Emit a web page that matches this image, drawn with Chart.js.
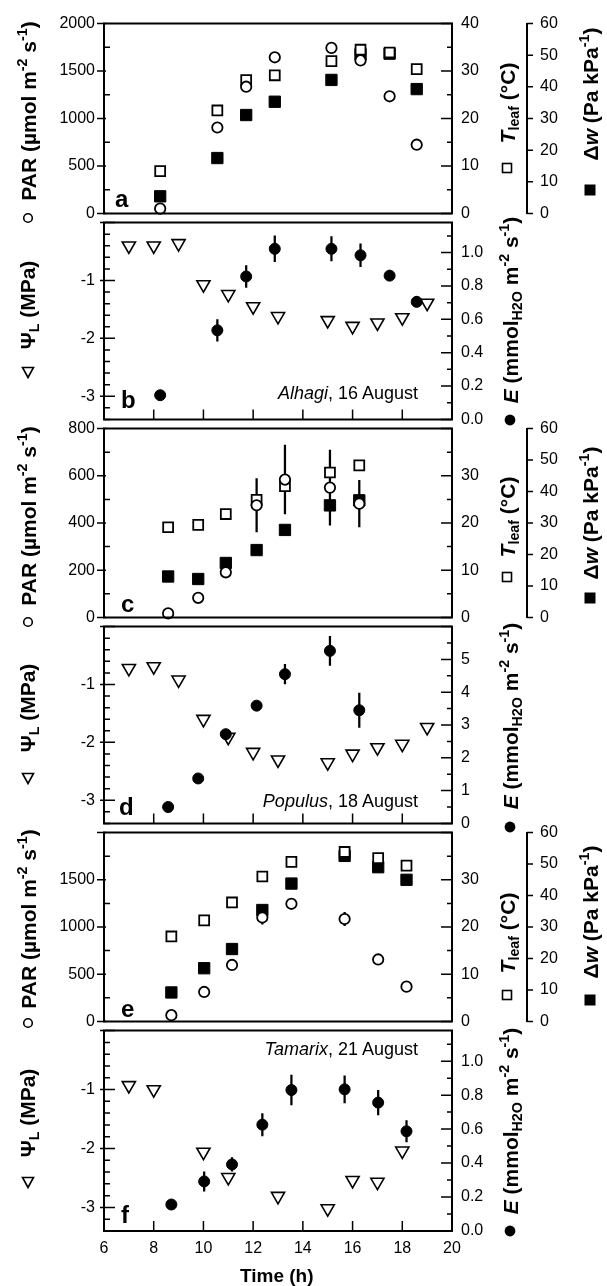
<!DOCTYPE html>
<html>
<head>
<meta charset="utf-8">
<title>Diurnal courses: Alhagi, Populus, Tamarix</title>
<script src="https://cdn.jsdelivr.net/npm/chart.js@4.4.1/dist/chart.umd.min.js"></script>
<style>
  html, body { margin: 0; padding: 0; background: #fff; }
  #fig { position: relative; width: 607px; height: 1286px; overflow: hidden;
         font-family: "Liberation Sans", Arial, sans-serif; color: #000; }
  #fig canvas { position: absolute; left: 0; }
  #keys { position: absolute; left: 0; top: 0; }
  .ttl { position: absolute; white-space: nowrap; font-weight: bold; font-size: 21px; line-height: 1;
         transform: translate(-50%, -50%) rotate(-90deg); }
  .ttl sub, .ttl sup { font-size: 0.68em; line-height: 0; }
  .ttl sup { vertical-align: 0.6em; }
  .ttl sub { vertical-align: -0.3em; }
  .txt { position: absolute; white-space: nowrap; line-height: 1; }
</style>
</head>
<body>
<div id="fig"></div>
<script>
// ─── Data ───

// ── Alhagi, 16 August (panels a, b) ──
const hoursA    = [8.26, 10.56, 11.72, 12.87, 15.15, 16.32, 17.49, 18.58];
const parA      = [50, 905, 1335, 1645, 1744, 1612, 1234, 724];
const tleafA    = [8.9, 21.7, 28.1, 29.1, 32.1, 34.5, 33.9, 30.4];
const dwA       = [5.4, 17.5, 31.1, 35.3, 42.2, 50.3, 50.5, 39.3];
const hoursPsiB = [7, 8, 9, 10, 11, 12, 13, 15, 16, 17, 18, 19];
const psiB      = [-0.40, -0.40, -0.36, -1.07, -1.24, -1.45, -1.62, -1.69, -1.79, -1.73, -1.64, -1.39];
const eB        = [0.145, 0.534, 0.857, 1.023, 1.023, 0.984, 0.862, 0.705];
const eErrB     = [0, 0.065, 0.065, 0.078, 0.073, 0.068, 0.03, 0.03];

// ── Populus, 18 August (panels c, d) ──
const hoursC    = [8.58, 9.79, 10.9, 12.14, 13.28, 15.09, 16.27];
const parC      = [17, 83, 191, 475, 584, 550, 482];
const parErrC   = [0, 0, 0, 113, 146, 159, 99];
const tleafC    = [19.1, 19.6, 21.9, 24.9, 27.8, 30.7, 32.2];
const dwC       = [13.0, 12.2, 17.3, 21.4, 27.8, 35.6, 37.2];
const hoursPsiD = [7, 8, 9, 10, 11, 12, 13, 15, 16, 17, 18, 19];
const psiD      = [-0.72, -0.69, -0.92, -1.60, -1.91, -2.17, -2.30, -2.35, -2.20, -2.09, -2.03, -1.74];
const eD        = [0.50, 1.37, 2.72, 3.59, 4.55, 5.26, 3.45];
const eErrD     = [0, 0, 0.12, 0, 0.3, 0.44, 0.52];

// ── Tamarix, 21 August (panels e, f) ──
const hoursE    = [8.71, 10.03, 11.15, 12.37, 13.54, 15.68, 17.03, 18.17];
const parE      = [66, 312, 598, 1100, 1246, 1085, 656, 368];
const parErrE   = [0, 0, 0, 70, 50, 70, 0, 0];
const tleafE    = [18.0, 21.4, 25.2, 30.7, 33.8, 35.9, 34.6, 33.0];
const dwE       = [9.2, 16.9, 23.0, 35.4, 43.8, 52.6, 49.0, 45.0];
const hoursPsiF = [7, 8, 10, 11, 13, 15, 16, 17, 18];
const psiF      = [-0.93, -1.00, -2.06, -2.49, -2.81, -3.02, -2.54, -2.57, -2.04];
const eF        = [0.156, 0.292, 0.392, 0.626, 0.830, 0.834, 0.756, 0.587];
const eErrF     = [0, 0.057, 0.04, 0.066, 0.088, 0.08, 0.073, 0.063];

// ── Tick labels ──
const timeTicks     = [6, 8, 10, 12, 14, 16, 18, 20];
const parTicksA     = [0, 500, 1000, 1500, 2000];
const parTicksC     = [0, 200, 400, 600, 800];
const parTicksE     = [0, 500, 1000, 1500];
const tleafTicks    = [0, 10, 20, 30, 40];
const tleafTicksLow = [0, 10, 20, 30];
const dwTicks       = [0, 10, 20, 30, 40, 50, 60];
const psiTicks      = [-3, -2, -1];
const eTicks        = [0, 0.2, 0.4, 0.6, 0.8, 1.0];
const eTicksD       = [0, 1, 2, 3, 4, 5];

// ─── Helpers ───
const FONT = '"Liberation Sans", Arial, sans-serif';
Chart.defaults.font.family = FONT;
Chart.defaults.color = '#000';

const steps = (a, b, d) => {
  const out = [];
  const n = Math.round((b - a) / d);
  for (let i = 0; i <= n; i++) out.push(+(a + i * d).toFixed(4));
  return out;
};
const without = (all, drop) => all.filter(v => !drop.some(m => Math.abs(m - v) < 1e-6));
const xy = (xs, ys) => xs.map((x, i) => ({ x, y: ys[i] }));
const errBars = (xs, ys, es) => xs
  .map((x, i) => ({ x, y: [ys[i] - es[i], ys[i] + es[i]] }))
  .filter((p, i) => es[i] > 0);

const fmtInt = v => (v < 0 ? '-' + Math.abs(v) : String(v));
const fmt1 = v => v.toFixed(1);

function yAxis(pos, min, max, labels, fmt, width, pad, weight) {
  return {
    type: 'linear', position: pos, min, max, weight,
    afterBuildTicks: s => { s.ticks = labels.map(v => ({ value: v })); },
    afterFit: s => { s.width = width; },
    grid: { display: false, drawTicks: false },
    border: { display: true, color: '#000', width: 2 },
    ticks: { color: '#000', font: { size: 16 }, padding: pad, autoSkip: false, callback: fmt }
  };
}

// frame lines and inward / outward tick marks, placed by the scales
const frameTicks = {
  id: 'frameTicks',
  afterDraw(chart, args, o) {
    const { ctx, chartArea: a } = chart;
    ctx.save();
    ctx.strokeStyle = '#000';
    ctx.lineWidth = 2;
    ctx.beginPath();
    ctx.moveTo(a.left - 1, a.top);    ctx.lineTo(a.right + 1, a.top);
    ctx.moveTo(a.left - 1, a.bottom); ctx.lineTo(a.right + 1, a.bottom);
    ctx.stroke();
    ctx.lineWidth = 1.5;
    ctx.beginPath();
    o.marks.forEach(m => {
      const s = chart.scales[m.id];
      const put = (vals, lenIn, lenOut) => vals.forEach(v => {
        const p = s.getPixelForValue(v);
        if (m.side === 'bottom') {
          ctx.moveTo(p, a.bottom); ctx.lineTo(p, a.bottom - lenIn);
        } else {
          const x0 = m.side === 'left' ? s.right : s.left;
          const dir = m.side === 'left' ? 1 : -1;
          ctx.moveTo(x0 - dir * lenOut, p); ctx.lineTo(x0 + dir * lenIn, p);
        }
      });
      put(m.major, m.majIn, m.majOut || 0);
      put(m.minor || [], m.minIn || 0, 0);
    });
    ctx.stroke();
    ctx.restore();
  }
};

const openCircle   = { pointStyle: 'circle', pointRadius: 5.2, pointBorderWidth: 1.8,
                       pointBackgroundColor: '#fff', pointBorderColor: '#000' };
const filledCircle = { pointStyle: 'circle', pointRadius: 5.5, pointBorderWidth: 1,
                       pointBackgroundColor: '#000', pointBorderColor: '#000' };
const openSquare   = { pointStyle: 'rect', pointRadius: 7, pointBorderWidth: 1.8,
                       pointBackgroundColor: '#fff', pointBorderColor: '#000' };
const filledSquare = { pointStyle: 'rect', pointRadius: 8, pointBorderWidth: 1,
                       pointBackgroundColor: '#000', pointBorderColor: '#000' };
const downTriangle = { pointStyle: 'triangle', pointRotation: 180, pointRadius: 7.6, pointBorderWidth: 1.6,
                       pointBackgroundColor: '#fff', pointBorderColor: '#000' };
const errStyle     = { type: 'bar', backgroundColor: '#000', borderWidth: 0, barThickness: 1.6, grouped: false };

// ─── Panels ───
const PANELS = [
  { kind: 'met', top: 17, h: 203, hours: hoursA, par: parA, parErr: null, tleaf: tleafA, dw: dwA,
    parMax: 2000, parStep: 500, parMinor: 250, parLabels: parTicksA, tleafLabels: tleafTicks },
  { kind: 'water', top: 220, h: 202, hoursPsi: hoursPsiB, psi: psiB, hoursE: hoursA, e: eB, eErr: eErrB,
    eMax: 1.18, eStep: 0.2, eMinor: 0.1, eLabels: eTicks, eFmt: fmt1 },
  { kind: 'met', top: 422, h: 202, hours: hoursC, par: parC, parErr: parErrC, tleaf: tleafC, dw: dwC,
    parMax: 800, parStep: 200, parMinor: 100, parLabels: parTicksC, tleafLabels: tleafTicksLow },
  { kind: 'water', top: 624, h: 202, hoursPsi: hoursPsiD, psi: psiD, hoursE: hoursC, e: eD, eErr: eErrD,
    eMax: 6, eStep: 1, eMinor: 0.5, eLabels: eTicksD, eFmt: fmtInt },
  { kind: 'met', top: 826, h: 202, hours: hoursE, par: parE, parErr: parErrE, tleaf: tleafE, dw: dwE,
    parMax: 2000, parStep: 500, parMinor: 250, parLabels: parTicksE, tleafLabels: tleafTicksLow },
  { kind: 'water', top: 1028, h: 203, hoursPsi: hoursPsiF, psi: psiF, hoursE: hoursE, e: eF, eErr: eErrF,
    eMax: 1.18, eStep: 0.2, eMinor: 0.1, eLabels: eTicks, eFmt: fmt1, last: true }
];

const fig = document.getElementById('fig');

function buildPanel(p) {
  const padT = 16, padB = 16, xH = p.last ? 52 : 0;
  const cv = document.createElement('canvas');
  cv.width = 607;
  cv.height = padT + p.h + xH + padB;
  cv.style.top = (p.top - padT) + 'px';
  fig.appendChild(cv);

  const scales = {
    x: {
      type: 'linear', min: 6, max: 20, offset: false, display: !!p.last,
      afterBuildTicks: s => { s.ticks = timeTicks.map(v => ({ value: v })); },
      afterFit: s => { s.height = xH; },
      grid: { display: false, drawTicks: false, offset: false },
      border: { display: false },
      ticks: { color: '#000', font: { size: 16 }, padding: 8, autoSkip: false, maxRotation: 0 }
    }
  };
  let datasets, marks;

  if (p.kind === 'met') {
    scales.yL = yAxis('left', 0, p.parMax, p.parLabels, fmtInt, 104, 9, 0);
    scales.yR = yAxis('right', 0, 40, p.tleafLabels, fmtInt, 75, 9, 0);
    scales.yW = yAxis('right', 0, 60, dwTicks, fmtInt, 80, 13, 1);
    datasets = [
      { data: xy(p.hours, p.par),   yAxisID: 'yL', clip: false, ...openCircle },
      { data: xy(p.hours, p.tleaf), yAxisID: 'yR', clip: false, ...openSquare },
      { data: xy(p.hours, p.dw),    yAxisID: 'yW', clip: false, ...filledSquare }
    ];
    if (p.parErr) datasets.push({ data: errBars(p.hours, p.par, p.parErr), yAxisID: 'yL', ...errStyle });
    const parMaj = steps(0, p.parMax, p.parStep);
    marks = [
      { id: 'yL', side: 'left', major: parMaj, minor: without(steps(0, p.parMax, p.parMinor), parMaj),
        majIn: 2, majOut: 7, minIn: 6 },
      { id: 'yR', side: 'right', major: steps(0, 40, 10), minor: steps(5, 35, 10), majIn: 11, minIn: 5 },
      { id: 'yW', side: 'right', major: dwTicks, majIn: 0, majOut: 6 }
    ];
  } else {
    scales.yL = yAxis('left', -3.4, 0, psiTicks, fmtInt, 104, 9, 0);
    scales.yR = yAxis('right', 0, p.eMax, p.eLabels, p.eFmt, 155, 9, 0);
    datasets = [
      { data: xy(p.hoursE, p.e),     yAxisID: 'yR', clip: false, ...filledCircle },
      { data: xy(p.hoursPsi, p.psi), yAxisID: 'yL', clip: false, ...downTriangle },
      { data: errBars(p.hoursE, p.e, p.eErr), yAxisID: 'yR', ...errStyle }
    ];
    const psiMaj = [-3, -2, -1, 0];
    const eMaj = steps(0, Math.floor(p.eMax / p.eStep + 1e-6) * p.eStep, p.eStep);
    marks = [
      { id: 'yL', side: 'left', major: psiMaj, minor: without(steps(-3.4, 0, 0.2), psiMaj),
        majIn: 11, majOut: 4, minIn: 6 },
      { id: 'yR', side: 'right', major: eMaj,
        minor: without(steps(0, Math.floor(p.eMax / p.eMinor + 1e-6) * p.eMinor, p.eMinor), eMaj),
        majIn: 11, minIn: 5 },
      { id: 'x', side: 'bottom', major: [8, 10, 12, 14, 16, 18], majIn: 10 }
    ];
  }

  new Chart(cv, {
    type: 'scatter',
    data: { datasets },
    options: {
      responsive: false,
      animation: false,
      devicePixelRatio: 1,
      events: [],
      layout: { padding: { top: padT, bottom: padB, left: 0, right: 0 } },
      plugins: { legend: { display: false }, tooltip: { enabled: false }, frameTicks: { marks } },
      scales
    },
    plugins: [frameTicks]
  });
}

PANELS.forEach(buildPanel);

// ─── Axis titles, panel letters, species labels ───
function addTitle(html, x, y) {
  const d = document.createElement('div');
  d.className = 'ttl';
  d.innerHTML = html;
  d.style.left = x + 'px';
  d.style.top = y + 'px';
  fig.appendChild(d);
}
function addText(html, x, baseline, size, bold, alignRight) {
  const d = document.createElement('div');
  d.className = 'txt';
  d.innerHTML = html;
  d.style.fontSize = size + 'px';
  d.style.fontWeight = bold ? 'bold' : 'normal';
  d.style.top = (baseline - 0.85 * size) + 'px';
  if (alignRight) d.style.right = (607 - x) + 'px'; else d.style.left = x + 'px';
  fig.appendChild(d);
}

const PAR_T  = 'PAR (µmol m<sup>-2</sup> s<sup>-1</sup>)';
const PSI_T  = 'Ψ<sub>L</sub> (MPa)';
const TL_T   = '<i>T</i><sub>leaf</sub> (°C)';
const DW_T   = 'Δ<i>w</i> (Pa kPa<sup>-1</sup>)';
const E_T    = '<i>E</i> (mmol<sub>H2O</sub> m<sup>-2</sup> s<sup>-1</sup>)';

addTitle(PAR_T, 28, 111);  addTitle(PSI_T, 27, 305);
addTitle(PAR_T, 28, 516);  addTitle(PSI_T, 27, 708);
addTitle(PAR_T, 28, 919);  addTitle(PSI_T, 27, 1113);
addTitle(TL_T, 507, 103);  addTitle(DW_T, 590, 94);
addTitle(TL_T, 507, 517);  addTitle(DW_T, 590, 513);
addTitle(TL_T, 507, 933);  addTitle(DW_T, 590, 912);
addTitle(E_T, 510, 310);   addTitle(E_T, 510, 716);   addTitle(E_T, 510, 1121);

addText('a', 115, 207, 24, true);
addText('b', 121, 408, 24, true);
addText('c', 121, 612, 24, true);
addText('d', 119, 815, 24, true);
addText('e', 121, 1017, 24, true);
addText('f', 121, 1223, 24, true);

addText('<i>Alhagi</i>, 16 August', 418, 399, 18, false, true);
addText('<i>Populus</i>, 18 August', 418, 807, 18, false, true);
addText('<i>Tamarix</i>, 21 August', 418, 1055, 18, false, true);

addText('Time (h)', 240, 1282, 19, true);

// ─── Legend keys beside the titles ───
const NS = 'http://www.w3.org/2000/svg';
const svg = document.createElementNS(NS, 'svg');
svg.setAttribute('id', 'keys');
svg.setAttribute('width', 607);
svg.setAttribute('height', 1286);
fig.appendChild(svg);
function key(type, x, y) {
  let el;
  if (type === 'oc' || type === 'fc') {
    el = document.createElementNS(NS, 'circle');
    el.setAttribute('cx', x); el.setAttribute('cy', y);
    el.setAttribute('r', type === 'oc' ? 4.3 : 5.4);
  } else if (type === 'os' || type === 'fs') {
    const s = type === 'os' ? 9 : 11;
    el = document.createElementNS(NS, 'rect');
    el.setAttribute('x', x - s / 2); el.setAttribute('y', y - s / 2);
    el.setAttribute('width', s); el.setAttribute('height', s);
  } else {
    el = document.createElementNS(NS, 'polygon');
    el.setAttribute('points', `${x - 5.5},${y - 4.5} ${x + 5.5},${y - 4.5} ${x},${y + 5.5}`);
  }
  const filled = type === 'fc' || type === 'fs';
  el.setAttribute('fill', filled ? '#000' : '#fff');
  el.setAttribute('stroke', '#000');
  el.setAttribute('stroke-width', filled ? 0 : 1.6);
  svg.appendChild(el);
}
key('oc', 28, 218);  key('tri', 28, 372);
key('oc', 28, 622);  key('tri', 28, 778);
key('oc', 28, 1023); key('tri', 28, 1182);
key('os', 507, 168); key('fs', 590, 190);
key('os', 507, 577); key('fs', 590, 598);
key('os', 507, 995); key('fs', 590, 1000);
key('fc', 510, 420); key('fc', 510, 827); key('fc', 510, 1231);
</script>
</body>
</html>
